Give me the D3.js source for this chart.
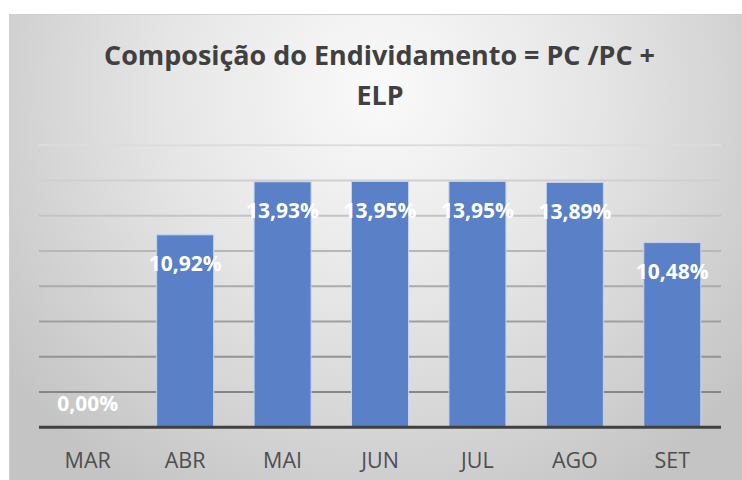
<!DOCTYPE html>
<html lang="pt">
<head>
  <meta charset="UTF-8">
  <title>Composição do Endividamento</title>
  <script src="https://d3js.org/d3.v7.min.js"></script>
  <style>
    html, body { margin: 0; padding: 0; background: #fff; }
    svg { display: block; }
  </style>
</head>
<body>
  <div id="chart"></div>
  <script>
    // months and values (%)
    const categories = ['MAR', 'ABR', 'MAI', 'JUN', 'JUL', 'AGO', 'SET'];
    const values = [0.00, 10.92, 13.93, 13.95, 13.95, 13.89, 10.48];
    const yTicks = [0, 2, 4, 6, 8, 10, 12, 14, 16];
    const titleLines = ['Composição do Endividamento = PC /PC +', 'ELP'];

    const W = 742, H = 480;
    const svg = d3.select('#chart').append('svg')
      .attr('width', W)
      .attr('height', H);

    const defs = svg.append('defs');
    const bg = defs.append('radialGradient')
      .attr('id', 'bgGrad')
      .attr('gradientUnits', 'userSpaceOnUse')
      .attr('cx', 380).attr('cy', 90).attr('r', 470);
    bg.append('stop').attr('offset', '0%').attr('stop-color', '#fafafa');
    bg.append('stop').attr('offset', '45%').attr('stop-color', '#e6e6e6');
    bg.append('stop').attr('offset', '100%').attr('stop-color', '#c4c4c4');

    // chart area
    svg.append('rect')
      .attr('x', 9.5).attr('y', 14.5)
      .attr('width', W).attr('height', H)
      .attr('fill', 'url(#bgGrad)')
      .attr('stroke', '#d0d0d0');

    // title
    const title = svg.append('g').attr('class', 'title');
    title.append('text')
      .attr('x', 379.5).attr('y', 65)
      .attr('text-anchor', 'middle')
      .attr('textLength', 551)
      .attr('lengthAdjust', 'spacingAndGlyphs')
      .attr('font-family', '"Open Sans", sans-serif')
      .attr('font-weight', 'bold')
      .attr('font-size', 27.5)
      .attr('fill', '#404040')
      .text(titleLines[0]);
    title.append('text')
      .attr('x', 380).attr('y', 105)
      .attr('text-anchor', 'middle')
      .attr('textLength', 47)
      .attr('lengthAdjust', 'spacingAndGlyphs')
      .attr('font-family', '"Open Sans", sans-serif')
      .attr('font-weight', 'bold')
      .attr('font-size', 27.5)
      .attr('fill', '#404040')
      .text(titleLines[1]);

    // plot
    const plot = { left: 39, right: 721, top: 145.3, bottom: 427.3 };
    const x = d3.scaleBand()
      .domain(categories)
      .range([plot.left, plot.right])
      .paddingInner(0.415)
      .paddingOuter(0.2075);
    const y = d3.scaleLinear()
      .domain([0, 16])
      .range([plot.bottom, plot.top]);

    const gridColor = d3.scaleLinear()
      .domain([16, 0])
      .range(['#dcdcdc', '#7a7a7a']);

    svg.append('g').attr('class', 'grid')
      .selectAll('line')
      .data(yTicks.filter(t => t > 0))
      .join('line')
      .attr('x1', plot.left).attr('x2', plot.right)
      .attr('y1', d => y(d)).attr('y2', d => y(d))
      .attr('stroke', d => gridColor(d))
      .attr('stroke-width', 2);

    // bars
    svg.append('g').attr('class', 'bars')
      .selectAll('rect')
      .data(values)
      .join('rect')
      .attr('x', (d, i) => x(categories[i]))
      .attr('y', d => y(d))
      .attr('width', x.bandwidth())
      .attr('height', d => y(0) - y(d))
      .attr('fill', '#5a80c8')
      .attr('stroke', '#c5d3ee')
      .attr('stroke-width', d => d > 0 ? 1 : 0);

    // baseline
    svg.append('line')
      .attr('x1', plot.left).attr('x2', plot.right)
      .attr('y1', y(0)).attr('y2', y(0))
      .attr('stroke', '#404040')
      .attr('stroke-width', 3);

    // value labels
    svg.append('g').attr('class', 'labels')
      .selectAll('text')
      .data(values)
      .join('text')
      .attr('x', (d, i) => x(categories[i]) + x.bandwidth() / 2)
      .attr('y', d => d > 0 ? y(d) + 29 : y(0) - 24)
      .attr('dy', '0.36em')
      .attr('text-anchor', 'middle')
      .attr('font-family', '"Open Sans", sans-serif')
      .attr('font-weight', 'bold')
      .attr('font-size', 21)
      .attr('fill', '#ffffff')
      .text(d => d.toFixed(2).replace('.', ',') + '%');

    // category axis
    const xAxis = svg.append('g')
      .attr('transform', `translate(0,${plot.bottom})`)
      .call(d3.axisBottom(x).tickSize(0).tickPadding(0));
    xAxis.select('.domain').remove();
    xAxis.selectAll('text')
      .attr('y', 33)
      .attr('dy', '0.36em')
      .attr('font-family', '"Open Sans", sans-serif')
      .attr('font-size', 21.5)
      .attr('fill', '#4f4f4f');
  </script>
</body>
</html>
